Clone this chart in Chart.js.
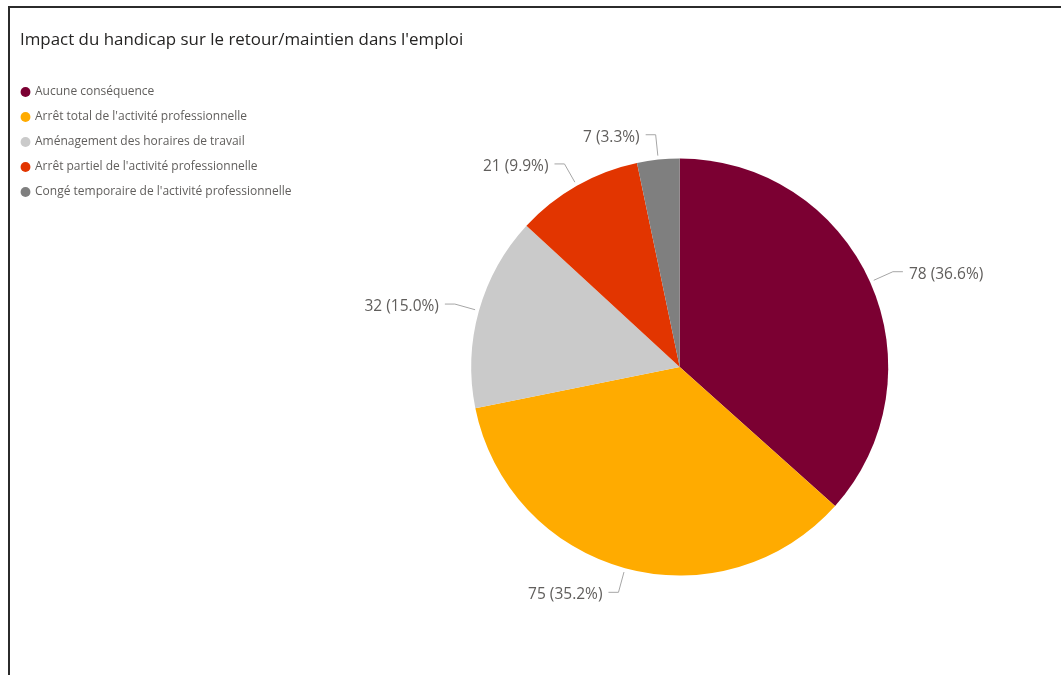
<!DOCTYPE html>
<html lang="fr">
<head>
<meta charset="utf-8">
<script src="https://cdn.jsdelivr.net/npm/chart.js@4.4.1/dist/chart.umd.min.js"></script>
<style>
  html, body { margin: 0; padding: 0; background: #fff; }
  body { width: 1061px; height: 675px; position: relative; overflow: hidden; font-family: "Open Sans", "Noto Sans", sans-serif; }
  #frame { position: absolute; left: 8px; top: 6px; width: 1100px; height: 720px; border-top: 2px solid #2b2b2b; border-left: 2px solid #2b2b2b; pointer-events: none; }
  #title { position: absolute; left: 20px; top: 27px; font-size: 16.9px; color: #252423; white-space: nowrap; }
  #wrap { position: absolute; left: 0; top: 0; width: 1061px; height: 675px; }
</style>
</head>
<body>
<div id="wrap"><canvas id="c" width="1061" height="675"></canvas></div>
<div id="frame"></div>
<div id="title">Impact du handicap sur le retour/maintien dans l'emploi</div>
<script>
const categories = [
  "Aucune conséquence",
  "Arrêt total de l'activité professionnelle",
  "Aménagement des horaires de travail",
  "Arrêt partiel de l'activité professionnelle",
  "Congé temporaire de l'activité professionnelle"
];
const counts = [78, 75, 32, 21, 7];
const sliceColors = ["#7B0032", "#FFAB00", "#CACACA", "#E23500", "#7F7F7F"];

const total = counts.reduce((a, b) => a + b, 0);

const outsideLabels = {
  id: "outsideLabels",
  afterDatasetsDraw(chart) {
    const ctx = chart.ctx;
    const meta = chart.getDatasetMeta(0);
    ctx.save();
    ctx.font = '15.5px "Open Sans", "Noto Sans", sans-serif';
    ctx.textBaseline = "middle";
    meta.data.forEach((arc, i) => {
      const { x, y, startAngle, endAngle, outerRadius } = arc.getProps(["x", "y", "startAngle", "endAngle", "outerRadius"], true);
      const mid = (startAngle + endAngle) / 2;
      const dx = Math.cos(mid), dy = Math.sin(mid);
      const p0x = x + dx * (outerRadius + 4), p0y = y + dy * (outerRadius + 4);
      const p1x = x + dx * (outerRadius + 25), p1y = y + dy * (outerRadius + 25);
      const right = dx >= 0;
      const p2x = p1x + (right ? 10 : -10);
      ctx.strokeStyle = "#A6A6A6";
      ctx.lineWidth = 1;
      ctx.beginPath();
      ctx.moveTo(p0x, p0y);
      ctx.lineTo(p1x, p1y);
      ctx.lineTo(p2x, p1y);
      ctx.stroke();
      const v = counts[i];
      const pct = (v / total * 100).toFixed(1);
      ctx.fillStyle = "#605E5C";
      ctx.textAlign = right ? "left" : "right";
      ctx.fillText(v + " (" + pct + "%)", p2x + (right ? 6 : -6), p1y + 2.5);
    });
    ctx.restore();
  }
};

new Chart(document.getElementById("c"), {
  type: "pie",
  data: {
    labels: categories,
    datasets: [{
      data: counts,
      backgroundColor: sliceColors,
      borderWidth: 0,
      radius: 208.5
    }]
  },
  options: {
    responsive: false,
    animation: false,
    layout: { padding: { left: 9, top: 73, right: 3, bottom: 14 } },
    plugins: {
      tooltip: { enabled: false },
      title: { display: false },
      legend: {
        display: true,
        position: "left",
        align: "start",
        labels: {
          usePointStyle: true,
          pointStyle: "circle",
          boxWidth: 7,
          boxHeight: 7,
          padding: 13,
          color: "#605E5C",
          font: { family: '"Open Sans", "Noto Sans", sans-serif', size: 12 }
        }
      }
    }
  },
  plugins: [outsideLabels]
});
</script>
</body>
</html>
